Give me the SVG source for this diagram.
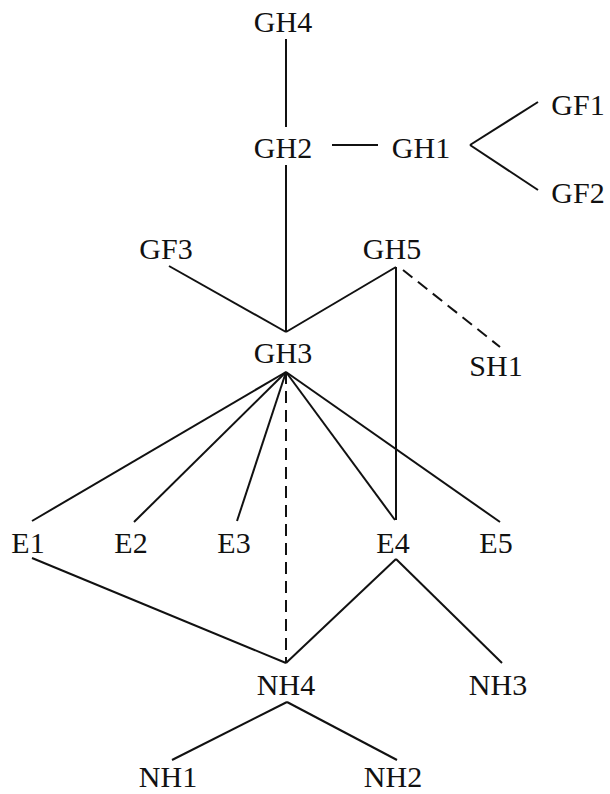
<svg xmlns="http://www.w3.org/2000/svg" width="610" height="794" viewBox="0 0 610 794">
<style>
text{font-family:"Liberation Serif","Times New Roman",serif;font-size:30px;fill:#111;text-anchor:middle}
.l{stroke:#111;stroke-width:2;fill:none}
.d{stroke:#111;stroke-width:2;fill:none;stroke-dasharray:12 7}
</style>
<rect width="610" height="794" fill="#fff"/>
<g id="connectors">
<line class="l" x1="286" y1="39" x2="286" y2="127"/>
<line class="l" x1="332" y1="145" x2="378" y2="145"/>
<line class="l" x1="470" y1="145" x2="538" y2="102"/>
<line class="l" x1="470" y1="145" x2="538" y2="190"/>
<line class="l" x1="286" y1="165" x2="286" y2="332"/>
<line class="l" x1="169" y1="266" x2="286" y2="332"/>
<line class="l" x1="396" y1="267" x2="286" y2="332"/>
<line class="l" x1="396" y1="267" x2="396" y2="520"/>
<line class="d" x1="403" y1="270" x2="500" y2="347"/>
<line class="l" x1="286" y1="372" x2="32" y2="521"/>
<line class="l" x1="286" y1="372" x2="134" y2="522"/>
<line class="l" x1="286" y1="372" x2="237" y2="521"/>
<line class="l" x1="286" y1="372" x2="395" y2="520"/>
<line class="l" x1="286" y1="372" x2="500" y2="522"/>
<line class="d" x1="286" y1="372" x2="286" y2="663"/>
<line class="l" x1="32" y1="558" x2="286" y2="663"/>
<line class="l" x1="396" y1="559" x2="286" y2="663"/>
<line class="l" x1="396" y1="559" x2="502" y2="663"/>
<line class="l" x1="287" y1="702" x2="172" y2="760"/>
<line class="l" x1="287" y1="702" x2="397" y2="760"/>
</g>
<g id="GH4"><text x="283" y="32">GH4</text></g>
<g id="GH2"><text x="283" y="158">GH2</text></g>
<g id="GH1"><text x="421" y="158">GH1</text></g>
<g id="GF1"><text x="578" y="115">GF1</text></g>
<g id="GF2"><text x="578" y="203">GF2</text></g>
<g id="GF3"><text x="166" y="259">GF3</text></g>
<g id="GH5"><text x="392" y="259">GH5</text></g>
<g id="GH3"><text x="283" y="363">GH3</text></g>
<g id="SH1"><text x="496" y="376">SH1</text></g>
<g id="E1"><text x="28" y="553">E1</text></g>
<g id="E2"><text x="131" y="553">E2</text></g>
<g id="E3"><text x="234" y="553">E3</text></g>
<g id="E4"><text x="393" y="553">E4</text></g>
<g id="E5"><text x="496" y="553">E5</text></g>
<g id="NH4"><text x="286" y="695">NH4</text></g>
<g id="NH3"><text x="498" y="695">NH3</text></g>
<g id="NH1"><text x="168" y="787">NH1</text></g>
<g id="NH2"><text x="393" y="787">NH2</text></g>
</svg>
